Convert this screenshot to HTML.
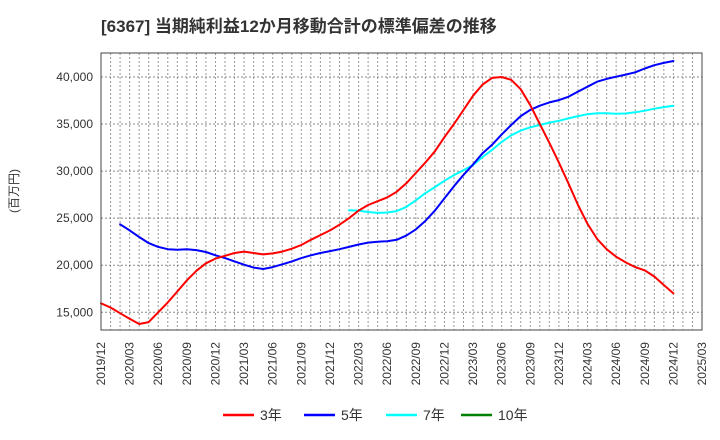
<!DOCTYPE html>
<html><head><meta charset="utf-8">
<style>
html,body{margin:0;padding:0;background:#fff;}
svg{display:block;font-family:"Liberation Sans","Noto Sans CJK JP",sans-serif;}
</style></head>
<body>
<svg id="chart" width="720" height="440" viewBox="0 0 720 440">
<text x="101" y="32" font-size="17" font-weight="bold" fill="#333">[6367]  当期純利益12か月移動合計の標準偏差の推移</text>
<text transform="translate(18,191) rotate(-90)" text-anchor="middle" font-size="12" fill="#333">(百万円)</text>
<g id="grid"></g><g id="yticks"></g><g id="xticks"></g><g id="series"></g>
<rect x="101" y="53" width="601" height="277" fill="none" stroke="#444" stroke-width="1"/>
<g id="legend"></g>
</svg>
<script>
const months = (function(){const a=[];let y=2019,m=12;for(let i=0;i<=63;i++){a.push(y+'/'+String(m).padStart(2,'0'));m++;if(m>12){m=1;y++;}}return a;})();
const yTicks = [15000,20000,25000,30000,35000,40000];
const red3 = [15950,15500,14900,14300,13750,13950,15000,16050,17200,18400,19400,20200,20700,21000,21300,21450,21300,21150,21250,21450,21750,22150,22700,23200,23700,24300,25000,25800,26400,26800,27200,27800,28700,29800,30900,32100,33600,35000,36500,38000,39200,39900,40000,39700,38700,37000,35000,33000,30900,28700,26400,24400,22800,21700,20900,20300,19800,19450,18800,17900,17000];
const blue5Start = 2;
const blue5 = [24350,23700,23000,22350,21950,21700,21650,21700,21600,21400,21050,20750,20400,20050,19750,19600,19800,20100,20400,20750,21050,21300,21500,21700,21950,22200,22400,22500,22550,22700,23150,23800,24700,25800,27100,28400,29600,30700,31900,32800,33900,34900,35850,36500,36950,37300,37550,37900,38450,38970,39500,39800,40030,40250,40500,40900,41250,41500,41700];
const cyan7Start = 26;
const cyan7 = [25850,25800,25650,25560,25600,25750,26200,26900,27650,28300,28970,29570,30100,30640,31500,32250,33100,33800,34300,34650,34900,35150,35350,35600,35850,36050,36150,36150,36100,36120,36250,36420,36630,36800,36950];
const green10 = [];

const NS='http://www.w3.org/2000/svg';
const L=101,R=702,T=53,B=330;
function xs(i){return L+i*(R-L)/63;}
function ys(v){return 77+(40000-v)*47.05/5000;}
function mk(tag,attrs,parent){const e=document.createElementNS(NS,tag);for(const k in attrs)e.setAttribute(k,attrs[k]);parent.appendChild(e);return e;}
const grid=document.getElementById('grid'),yt=document.getElementById('yticks'),xt=document.getElementById('xticks'),ser=document.getElementById('series'),leg=document.getElementById('legend');
for(let i=1;i<63;i++){
  const g=mk('line',{x1:xs(i),x2:xs(i),y1:T,y2:B,stroke:'#999','stroke-dasharray':'2,2','stroke-width':1},grid);
  
  
}
yTicks.forEach(v=>{
  const g=mk('line',{x1:L,x2:R,y1:ys(v),y2:ys(v),stroke:'#888','stroke-dasharray':'2,2','stroke-width':1},grid);
  
  
  const t=mk('text',{x:93,y:ys(v)+4,'text-anchor':'end','font-size':12,fill:'#333'},yt);
  t.textContent=v.toLocaleString('en-US');
  
  
});
for(let i=0;i<=63;i+=3){
  const t=mk('text',{transform:`translate(${xs(i)+4},342) rotate(-90)`,'text-anchor':'end','font-size':12,fill:'#333'},xt);
  t.textContent=months[i];
  
  
}
function line(arr,start,color,name){
  if(!arr.length)return;
  const pts=arr.map((v,k)=>xs(start+k).toFixed(1)+','+ys(v).toFixed(1)).join(' ');
  const p=mk('polyline',{points:pts,fill:'none',stroke:color,'stroke-width':2,'stroke-linejoin':'round','stroke-linecap':'round'},ser);
  
  
}
line(cyan7,cyan7Start,'#00ffff','series-7y-line');
line(blue5,blue5Start,'#0000ff','series-5y-line');
line(red3,0,'#ff0000','series-3y-line');
line(green10,0,'#008000','series-10y-line');
const legItems=[['3年','#ff0000',223],['5年','#0000ff',304],['7年','#00ffff',386],['10年','#008000',461]];
legItems.forEach(([lab,c,x])=>{
  const g=mk('g',{},leg);
  
  
  mk('line',{x1:x,x2:x+31,y1:415,y2:415,stroke:c,'stroke-width':2.5},g);
  const t=mk('text',{x:x+37,y:420,'font-size':14,fill:'#333'},g);
  t.textContent=lab;
});
</script>
</body></html>
